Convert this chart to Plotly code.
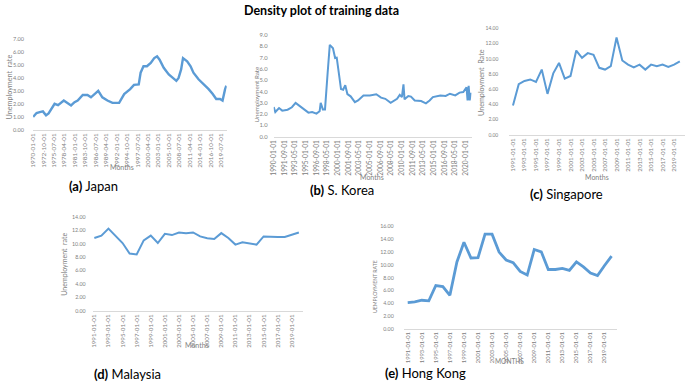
import plotly.graph_objects as go

W, H = 685, 386

# ---------------- data ----------------
jp_dates = ["1970-01-01", "1970-12-01", "1971-10-01", "1972-08-01", "1973-06-01", "1974-02-01",
            "1975-09-01", "1976-08-01", "1978-02-01", "1979-02-01", "1980-01-01", "1980-12-01",
            "1981-10-01", "1983-02-01", "1984-05-01", "1985-04-01", "1986-03-01", "1987-03-01",
            "1988-04-01", "1989-08-01", "1990-12-01", "1992-09-01", "1994-01-01", "1995-08-01",
            "1996-08-01", "1997-11-01", "1998-05-01", "1999-02-01", "2000-01-01", "2001-01-01",
            "2001-12-01", "2002-09-01", "2003-05-01", "2004-06-01", "2005-10-01", "2007-02-01",
            "2007-10-01", "2008-05-01", "2009-01-01", "2009-07-01", "2010-08-01", "2011-07-01",
            "2012-04-01", "2013-08-01", "2015-01-01", "2016-04-01", "2017-05-01", "2018-04-01",
            "2019-04-01", "2019-12-01", "2020-08-01", "2020-12-01"]
jp_values = [0.99, 1.29, 1.36, 1.41, 1.11, 1.25, 2.0, 1.9, 2.25, 2.05, 1.87, 2.12,
             2.25, 2.68, 2.68, 2.5, 2.75, 3.0, 2.5, 2.25, 2.07, 2.07, 2.75, 3.13,
             3.46, 3.5, 4.4, 4.9, 4.9, 5.16, 5.53, 5.66, 5.4, 4.78, 4.27, 3.89,
             3.77, 4.0, 4.65, 5.53, 5.28, 4.9, 4.4, 3.89, 3.51, 3.13, 2.75, 2.37,
             2.37, 2.25, 3.13, 3.39]
jp_ticks = ["1970-01-01", "1972-10-01", "1975-07-01", "1978-04-01", "1981-01-01", "1983-10-01",
            "1986-07-01", "1989-04-01", "1992-01-01", "1994-10-01", "1997-07-01", "2000-04-01",
            "2003-01-01", "2005-10-01", "2008-07-01", "2011-04-01", "2014-01-01", "2016-10-01",
            "2019-07-01"]

kr_dates = ["1990-01-01", "1990-04-01", "1990-11-01", "1991-05-01", "1992-03-01", "1992-11-01",
            "1993-06-01", "1994-01-01", "1994-10-01", "1995-06-01", "1996-01-01", "1996-09-01",
            "1997-03-01", "1997-05-01", "1997-09-01", "1998-01-01", "1998-06-01", "1998-10-01",
            "1999-04-01", "1999-08-01", "1999-11-01", "2000-03-01", "2000-07-01", "2000-11-01",
            "2001-03-01", "2001-07-01", "2002-01-01", "2002-09-01", "2003-03-01", "2004-01-01",
            "2005-01-01", "2006-01-01", "2006-10-01", "2007-06-01", "2008-04-01", "2009-04-01",
            "2009-09-01", "2010-01-01", "2010-04-01", "2010-06-01", "2011-01-01", "2011-06-01",
            "2012-01-01", "2013-01-01", "2013-10-01", "2014-05-01", "2014-11-01", "2016-01-01",
            "2016-11-01", "2017-07-01", "2018-05-01", "2019-01-01", "2019-08-01", "2020-02-01",
            "2020-04-01", "2020-06-01", "2020-08-01", "2020-10-01"]
kr_values = [2.61, 2.18, 2.53, 2.3, 2.38, 2.6, 2.99, 2.75, 2.41, 2.12, 2.18, 2.03,
             2.24, 2.99, 2.41, 2.41, 5.66, 8.13, 7.84, 6.97, 7.0, 5.37, 4.21, 4.15,
             4.56, 3.77, 3.57, 3.05, 3.2, 3.65, 3.65, 3.75, 3.45, 3.35, 3.0, 3.35,
             3.7, 3.5, 4.64, 3.3, 3.6, 3.55, 3.2, 3.15, 2.95, 3.2, 3.5, 3.65,
             3.6, 3.8, 3.65, 3.9, 3.95, 4.36, 3.2, 4.5, 3.2, 3.9]
kr_ticks = ["1990-01-01", "1991-09-01", "1993-05-01", "1995-01-01", "1996-09-01", "1998-05-01",
            "2000-01-01", "2001-09-01", "2003-05-01", "2005-01-01", "2006-09-01", "2008-05-01",
            "2010-01-01", "2011-09-01", "2013-05-01", "2015-01-01", "2016-09-01", "2018-05-01",
            "2020-01-01"]

years = [f"{y}-01-01" for y in range(1991, 2021)]
year_ticks = [f"{y}-01-01" for y in range(1991, 2021, 2)]

sg_values = [3.88, 6.67, 7.1, 7.3, 6.97, 8.6, 5.4, 8.1, 9.47, 7.4,
             7.75, 11.1, 10.15, 10.76, 10.55, 8.83, 8.6, 9.04, 12.83, 9.8,
             9.25, 8.9, 9.25, 8.6, 9.25, 9.04, 9.25, 8.95, 9.25, 9.69]
my_values = [10.84, 11.2, 12.25, 11.2, 10.1, 8.55, 8.4, 10.5, 11.2, 10.1,
             11.47, 11.28, 11.67, 11.57, 11.67, 11.08, 10.8, 10.7, 11.57, 10.84,
             9.87, 10.2, 10.0, 9.87, 11.08, 10.99, 10.99, 10.99, 11.28, 11.67]
hk_values = [4.1, 4.2, 4.46, 4.36, 6.77, 6.6, 5.23, 10.46, 13.54, 11.08,
             11.13, 14.82, 14.82, 12.0, 10.77, 10.36, 8.97, 8.41, 12.41, 12.05,
             9.28, 9.28, 9.44, 9.13, 10.46, 9.69, 8.72, 8.31, 9.9, 11.38]

# ---------------- style ----------------
BLUE = "#5B9BD5"
GREY = "#808080"
AXIS = "#D9D9D9"
FONT = "Lato"


def px_x(p):
    return p / W


def px_y(p):
    return 1 - p / H


fig = go.Figure()

panels = [
    dict(x=jp_dates, y=jp_values, xd=(28.3, 223.3), yd=(128, 35.7), xr=["1970-01-01", "2021-01-01"],
         yr=[0, 7], dt=1, fmt=".2f", xtype="date", ticks=jp_ticks, lw=2.4, xf=6.4, yf=5.6, so=7),
    dict(x=kr_dates, y=kr_values, xd=(270.7, 470), yd=(135, 31.7), xr=["1990-01-01", "2020-11-15"],
         yr=[0, 9], dt=1, fmt=".1f", xtype="date", ticks=kr_ticks, lw=2.0, xf=6.6, yf=5.8, so=4),
    dict(x=years, y=sg_values, xd=(508, 685), yd=(133.3, 25), xr=[-0.64, 29.9],
         yr=[0, 14], dt=2, fmt=".2f", xtype="category", ticks=year_ticks, lw=2.0, xf=6.2, yf=5.0, so=9),
    dict(x=years, y=my_values, xd=(88.3, 300), yd=(312.7, 216.7), xr=[-0.24, 29.56],
         yr=[0, 14], dt=2, fmt=".2f", xtype="category", ticks=year_ticks, lw=2.0, xf=6.2, yf=5.3, so=5),
    dict(x=years, y=hk_values, xd=(401.7, 616), yd=(330.7, 226.7), xr=[-0.56, 29.7],
         yr=[0, 16], dt=2, fmt=".2f", xtype="category", ticks=year_ticks, lw=2.8, xf=5.8, yf=5.3, so=8),
]

layout = {}
for i, p in enumerate(panels, start=1):
    sx = "" if i == 1 else str(i)
    fig.add_trace(go.Scatter(x=p["x"], y=p["y"], mode="lines",
                             line=dict(color=BLUE, width=p["lw"], shape="linear"),
                             xaxis="x" + sx, yaxis="y" + sx, showlegend=False,
                             hoverinfo="skip"))
    layout["xaxis" + sx] = dict(
        domain=[px_x(p["xd"][0]), px_x(p["xd"][1])], anchor="y" + sx, type=p["xtype"],
        range=p["xr"], tickmode="array", tickvals=p["ticks"], ticktext=p["ticks"],
        tickangle=-90, tickfont=dict(family=FONT, size=p["xf"], color=GREY),
        showgrid=False, zeroline=False, showline=True, linecolor=AXIS, linewidth=1,
        ticks="", fixedrange=True)
    layout["yaxis" + sx] = dict(
        domain=[px_y(p["yd"][0]), px_y(p["yd"][1])], anchor="x" + sx, range=p["yr"],
        dtick=p["dt"], tick0=0, tickformat=p["fmt"],
        tickfont=dict(family=FONT, size=p["yf"], color=GREY),
        showgrid=False, zeroline=False, showline=False,
        ticks="outside", ticklen=p["so"], tickcolor="rgba(0,0,0,0)", fixedrange=True)

ann = []


def text(x, y, t, size, color=GREY, angle=0):
    ann.append(dict(x=px_x(x), y=px_y(y), xref="paper", yref="paper", text=t,
                    showarrow=False, textangle=angle, xanchor="center", yanchor="middle",
                    font=dict(family=FONT, size=size, color=color)))


# main title
text(319, 7, "<b>Density plot of training data</b>", 12.5, color="#000000")

# y axis titles
text(5, 84, "Unemployment  rate", 7.2, angle=-90)
text(253, 92, "Unemployment Rate", 6.2, angle=-90)
text(480, 80, "Unemployment  Rate", 7.2, angle=-90)
text(60, 265, "Unemployment  rate", 7.0, angle=-90)
text(372, 288, "UEMPLOYMENT RATE", 5.2, angle=-90)

# x axis titles
text(118, 166, "Months", 7)
text(370, 176, "Months", 7)
text(596, 176, "Months", 7)
text(193, 347, "Months", 7)
text(508, 364, "MONTHS", 6.6)

# captions
text(89, 185, "<b>(a)</b> Japan", 13, color="#000000")
text(339, 189, "<b>(b)</b> S. Korea", 13, color="#000000")
text(566, 193, "<b>(c)</b> Singapore", 13, color="#000000")
text(123, 377, "<b>(d)</b> Malaysia", 13, color="#000000")
text(424, 376, "<b>(e)</b> Hong Kong", 13, color="#000000")

fig.update_layout(width=W, height=H, margin=dict(l=0, r=0, t=0, b=0),
                  paper_bgcolor="white", plot_bgcolor="white",
                  annotations=ann, showlegend=False, **layout)

fig.write_html("out.html", config={"displayModeBar": False, "staticPlot": True},
               post_script="document.body.style.margin='0';document.body.style.overflow='hidden';")
